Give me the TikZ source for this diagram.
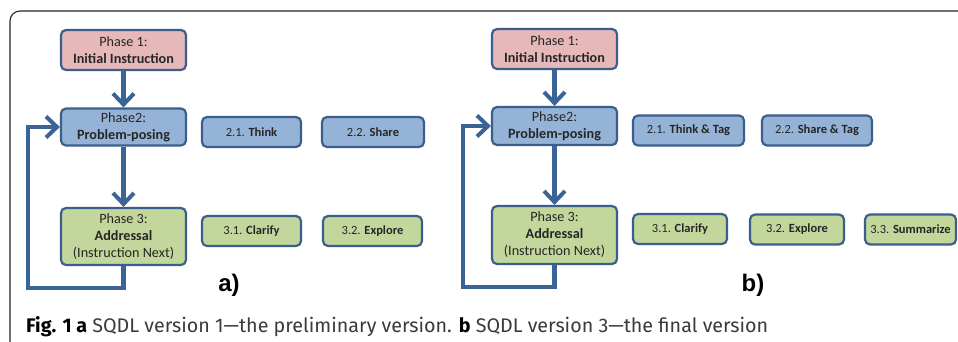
\documentclass[tikz,border=0pt]{standalone}
\usepackage{fontspec}
\setmainfont{Carlito}
\newfontfamily\capfont{Fira Sans}
\newfontfamily\lblfont{Liberation Sans}
\usetikzlibrary{arrows.meta}
\definecolor{bord}{HTML}{3B5F8C}
\definecolor{arr}{HTML}{3A6496}
\definecolor{pinkf}{HTML}{E6B9B8}
\definecolor{bluef}{HTML}{95B3D7}
\definecolor{greenf}{HTML}{C3D69B}
\definecolor{captxt}{HTML}{3A3A3A}
\tikzset{
  box/.style={draw=bord, line width=2.2pt, rounded corners=5pt, align=center, inner sep=0pt, text=black!85},
  bigbox/.style={box, minimum width=125pt, font=\fontsize{14.2}{17}\selectfont},
  smallbox/.style={box, minimum height=30pt, font=\fontsize{12.5}{15}\selectfont},
  flow/.style={draw=arr, line width=4.3pt, -{Straight Barb[length=11pt,width=21pt,line width=4pt]}},
  panellabel/.style={font=\lblfont\bfseries\fontsize{24}{28}\selectfont, inner sep=0pt}
}
\begin{document}
\begin{tikzpicture}[x=1pt,y=-1pt]
\useasboundingbox (0,0) rectangle (958,341);
\clip (0,0) rectangle (958,341);
\fill[white] (0,0) rectangle (958,341);
% frame
\draw[line width=1.1pt, black!85, rounded corners=10pt] (10,400) -- (10,11) -- (1000,11);

% ---------- panel a ----------
\node[bigbox, fill=pinkf, minimum height=40pt] (p1a) at (123.5,50) {Phase 1:\\\textbf{Initial Instruction}};
\node[bigbox, fill=bluef, minimum height=37pt] (p2a) at (123.5,127) {Phase2:\\\textbf{Problem-posing}};
\node[bigbox, fill=greenf, minimum height=57pt] (p3a) at (123.5,236.5) {Phase 3:\\\textbf{Addressal}\\(Instruction Next)};
\node[smallbox, fill=bluef, minimum width=99pt] (t21a) at (251.5,132) {2.1. \textbf{Think}};
\node[smallbox, fill=bluef, minimum width=102pt] (t22a) at (373,132) {2.2. \textbf{Share}};
\node[smallbox, fill=greenf, minimum width=99pt] (t31a) at (251.5,231) {3.1. \textbf{Clarify}};
\node[smallbox, fill=greenf, minimum width=99pt] (t32a) at (372.5,231) {3.2. \textbf{Explore}};
\coordinate (la1) at (123.5,288);
\coordinate (la2) at (28,288);
\draw[flow] (p1a.south) -- (p2a.north);
\draw[flow] (p2a.south) -- (p3a.north);
\draw[flow, line join=miter] (p3a.south) -- (la1) -- (la2) |- (p2a.west);
\node[panellabel] (la) at (229,285) {a)};

% ---------- panel b ----------
\node[bigbox, fill=pinkf, minimum height=40pt] (p1b) at (554.5,49) {Phase 1:\\\textbf{Initial Instruction}};
\node[bigbox, fill=bluef, minimum height=38pt] (p2b) at (554.5,126) {Phase2:\\\textbf{Problem-posing}};
\node[bigbox, fill=greenf, minimum height=58pt] (p3b) at (554.5,235) {Phase 3:\\\textbf{Addressal}\\(Instruction Next)};
\node[smallbox, fill=bluef, minimum width=111pt] (t21b) at (688.5,130.5) {2.1. \textbf{Think \& Tag}};
\node[smallbox, fill=bluef, minimum width=110pt] (t22b) at (817,130.5) {2.2. \textbf{Share \& Tag}};
\node[smallbox, fill=greenf, minimum width=94pt] (t31b) at (680,229) {3.1. \textbf{Clarify}};
\node[smallbox, fill=greenf, minimum width=94pt] (t32b) at (797,229.5) {3.2. \textbf{Explore}};
\node[smallbox, fill=greenf, minimum width=91pt] (t33b) at (910.5,229.5) {3.3. \textbf{Summarize}};
\coordinate (lb1) at (554.5,287);
\coordinate (lb2) at (463,287);
\draw[flow] (p1b.south) -- (p2b.north);
\draw[flow] (p2b.south) -- (p3b.north);
\draw[flow, line join=miter] (p3b.south) -- (lb1) -- (lb2) |- (p2b.west);
\node[panellabel] (lb) at (753,285) {b)};

% caption
\node[anchor=base west, inner sep=0pt, text=captxt, font=\capfont\fontsize{17}{20}\selectfont] (cap) at (26,332)
  {\resizebox{742pt}{!}{\textcolor{black}{\bfseries Fig. 1 a} SQDL version 1—the preliminary version. \textcolor{black}{\bfseries b} SQDL version 3—the final version}};
\end{tikzpicture}
\end{document}
